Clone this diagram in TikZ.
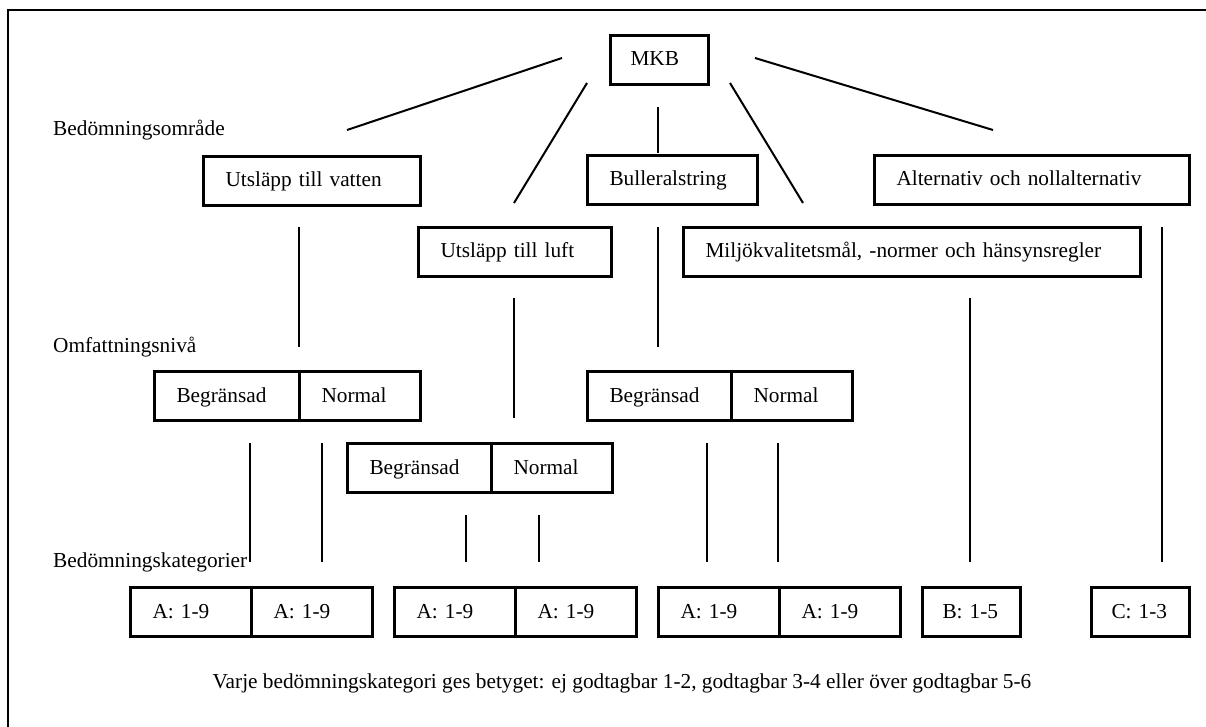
\documentclass[tikz,border=0pt]{standalone}
\usepackage{fontspec}
\setmainfont{Liberation Serif}
\tikzset{
  boks/.style={draw, line width=3pt, anchor=north west, inner xsep=22pt, inner ysep=0pt,
    align=left, minimum height=49pt, text height=16pt, text depth=4pt},
  streck/.style={line width=2pt},
  rubrik/.style={anchor=base west, inner sep=0pt}
}
\begin{document}
\begin{tikzpicture}[x=1pt, y=-1pt]
                        \useasboundingbox (0,0) rectangle (1206,727);
                        {\fontsize{21.3}{25}\selectfont

                        % Drawing frame
                        \draw [line width=2.5pt] (1206,10) -- (8,10) -- (8,727);%

                        % Marking level labels
                        \node [rubrik] (omrade) at (53,136) {Bedömningsområde};%
                        \node [rubrik] (niva) at (53,352) {Omfattningsnivå};%
                        \node [rubrik] (kat) at (53,567) {Bedömningskategorier};%

                        % Drawing box MKB and areas
                        \node [boks, inner xsep=20pt, text width=58pt] (mkb) at (609,34) {MKB};%
                        \node [boks, text width=173pt] (vatten) at (202,155) {Utsläpp till vatten};%
                        \node [boks, text width=126pt] (buller) at (586,154) {Bulleralstring};%
                        \node [boks, text width=271pt] (alt) at (873,154) {Alternativ och nollalternativ};%
                        \node [boks, text width=149pt] (luft) at (417,226) {Utsläpp till luft};%
                        \node [boks, text width=413pt] (miljo) at (682,226) {Miljökvalitetsmål, -normer och hänsynsregler};%

                        % Drawing boxes Begränsad / Normal
                        \node [boks, text width=101pt] (vbeg) at (153,370) {Begränsad};%
                        \node [boks, text width=77pt] (vnorm) at (298,370) {Normal};%
                        \node [boks, text width=100pt] (lbeg) at (346,442) {Begränsad};%
                        \node [boks, text width=77pt] (lnorm) at (490,442) {Normal};%
                        \node [boks, text width=100pt] (bbeg) at (586,370) {Begränsad};%
                        \node [boks, text width=77pt] (bnorm) at (730,370) {Normal};%

                        % Drawing boxes of categories
                        \node [boks, text width=77pt] (kat1) at (129,586) {A: 1-9};%
                        \node [boks, text width=77pt] (kat2) at (250,586) {A: 1-9};%
                        \node [boks, text width=77pt] (kat3) at (393,586) {A: 1-9};%
                        \node [boks, text width=77pt] (kat4) at (514,586) {A: 1-9};%
                        \node [boks, text width=77pt] (kat5) at (657,586) {A: 1-9};%
                        \node [boks, text width=77pt] (kat6) at (778,586) {A: 1-9};%
                        \node [boks, inner xsep=20pt, text width=58pt] (katb) at (921,586) {B: 1-5};%
                        \node [boks, inner xsep=20pt, text width=58pt] (katc) at (1090,586) {C: 1-3};%

                        % Marking line ends
                        \coordinate (m1) at (562,58);  \coordinate (v1) at (347,130);%
                        \coordinate (m2) at (587,83);  \coordinate (l1) at (514,203);%
                        \coordinate (m3) at (658,107); \coordinate (b1) at (658,153);%
                        \coordinate (m4) at (730,83);  \coordinate (q1) at (803,203);%
                        \coordinate (m5) at (755,58);  \coordinate (a1) at (993,130);%
                        \coordinate (v2) at (299,227); \coordinate (v3) at (299,347);%
                        \coordinate (l2) at (514,298); \coordinate (l3) at (514,418);%
                        \coordinate (b2) at (658,227); \coordinate (b3) at (658,347);%
                        \coordinate (q2) at (970,298); \coordinate (q3) at (970,562);%
                        \coordinate (a2) at (1162,227); \coordinate (a3) at (1162,562);%

                        % Drawing lines from MKB
                        \draw [streck] (m1) -- (v1);%
                        \draw [streck] (m2) -- (l1);%
                        \draw [line width=1.5pt] (m3) -- (b1);%
                        \draw [streck] (m4) -- (q1);%
                        \draw [streck] (m5) -- (a1);%

                        % Drawing lines down to levels
                        \draw [streck] (v2) -- (v3);%
                        \draw [streck] (l2) -- (l3);%
                        \draw [streck] (b2) -- (b3);%
                        \draw [streck] (q2) -- (q3);%
                        \draw [streck] (a2) -- (a3);%

                        % Drawing lines down to categories
                        \foreach \x/\y in {250/443, 322/443, 466/515, 539/515, 706.5/443, 778/443}
                          \draw [streck] (\x,\y) -- (\x,562);%

                        % Marking note
                        \node [anchor=base, inner sep=0pt] (note) at (622,688) {Varje bedömningskategori ges betyget: ej godtagbar 1-2, godtagbar 3-4 eller över godtagbar 5-6};%
                        }
\end{tikzpicture}
\end{document}
